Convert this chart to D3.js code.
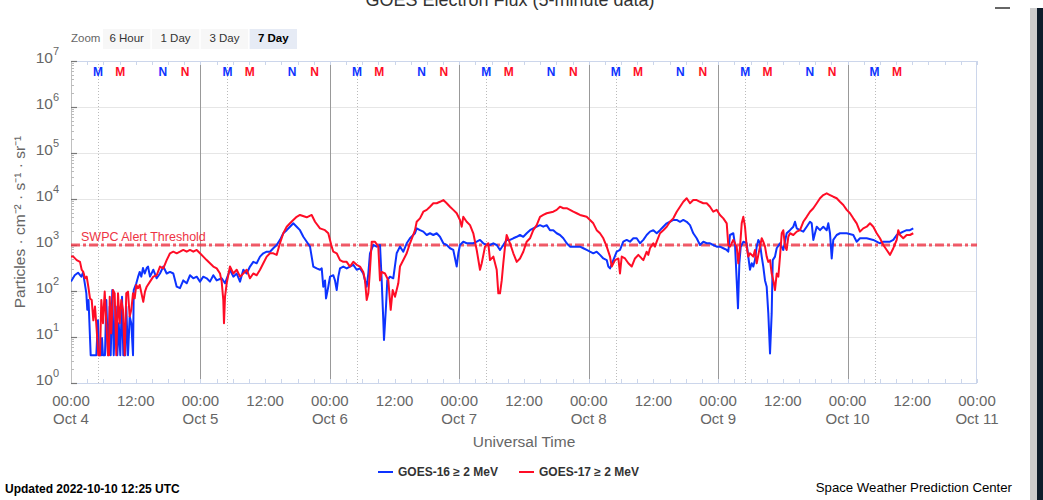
<!DOCTYPE html>
<html>
<head>
<meta charset="utf-8">
<script src="https://cdn.jsdelivr.net/npm/d3@7/dist/d3.min.js"></script>
<style>
  html, body { margin: 0; padding: 0; background: #fff; }
  svg { display: block; font-family: "Liberation Sans", Arial, Helvetica, sans-serif; }
</style>
</head>
<body>
<svg id="chart" width="1043" height="500"></svg>
<script>
// ---- data: hours after 2022-10-04 00:00 UTC, electron flux (particles / cm2 s sr)
const goes16Hours = [0,0.69,1.30,1.91,2.23,2.54,2.84,3.02,3.25,3.65,4.69,5.0,5.19,5.62,5.75,5.93,6.30,6.55,6.86,7.18,7.36,7.66,7.92,8.29,8.59,8.85,9.14,9.46,9.70,10.07,10.25,10.57,10.88,11.18,11.5,11.63,12.11,12.42,12.74,13.04,13.35,13.67,14.04,14.28,14.65,15.26,15.89,16.5,17.12,17.74,18.36,18.97,19.6,20.21,20.82,21.45,22.07,22.68,23.31,23.92,24.53,25.16,25.77,26.39,27.02,27.94,28.56,29.48,30.1,30.73,31.34,31.95,32.58,33.19,33.8,34.43,35.05,35.66,36.29,36.9,37.51,38.14,38.75,39.37,40.0,40.61,41.22,41.85,42.46,43.08,43.71,44.32,44.93,45.56,46.17,46.49,46.78,47.1,47.29,47.71,48.03,48.64,48.95,49.27,49.57,49.88,50.49,51.12,51.73,52.35,52.98,53.59,54.2,54.52,54.83,55.13,55.44,56.06,56.69,57.3,57.61,57.91,58.04,58.41,58.65,59.15,59.76,60.39,61.0,61.62,62.25,62.86,63.79,64.1,64.71,65.33,65.96,66.57,67.18,67.81,68.42,69.04,69.67,70.28,70.89,71.52,71.82,72.13,72.74,73.37,73.99,74.6,75.23,75.84,76.45,77.08,77.7,78.31,78.94,79.55,80.16,80.79,81.4,82.02,82.65,83.26,83.87,84.5,85.11,85.72,86.35,86.97,87.58,88.21,88.82,89.43,90.06,90.67,91.29,91.92,92.53,93.14,94.38,95.0,95.62,96.24,96.85,97.48,98.09,98.71,99.34,99.64,99.95,100.56,101.19,101.8,102.41,103.04,103.65,104.27,104.9,105.51,106.13,106.75,107.36,107.98,108.61,109.22,109.83,110.46,111.07,111.69,112.32,112.93,113.54,114.17,114.78,115.39,116.02,116.64,117.25,117.88,118.49,119.1,119.73,120.34,120.96,121.59,121.88,122.2,122.81,123.13,123.44,123.68,123.93,124.19,124.67,125.29,125.59,125.9,126.22,126.52,126.83,127.15,127.45,127.76,128.08,128.37,128.69,129.0,129.3,129.62,129.93,130.12,130.54,130.86,131.47,132.08,132.71,133.32,133.94,134.25,134.57,135.18,135.79,136.42,137.03,137.35,137.65,137.96,138.28,138.89,139.5,140.13,140.43,140.74,141.06,141.35,141.98,142.59,143.84,145.06,145.69,146.3,147.55,148.77,150.01,150.63,151.87,152.48,153.11,153.72,154.33,154.96,155.57,156.18];
const goes16Flux = [160,220,250,205,250,150,90,39,64,4,4,23,4,4,9.5,4,4,64,4,46,4,105,4,46,4,20,4,75,4,4,46,4,28,20,4,105,147,200,260,205,316,240,316,340,205,290,189,240,340,240,260,240,124,115,170,147,220,189,205,160,205,189,160,220,170,189,147,290,205,240,160,290,240,340,430,400,560,660,715,715,850,1000,1290,1800,2100,2500,2960,2500,2100,1510,1180,920,340,310,290,310,124,170,69,124,205,220,170,105,205,310,340,310,340,370,290,310,240,170,124,240,660,1000,920,1000,170,23,8.6,46,170,205,189,660,920,715,1090,1400,1800,2300,2100,1950,1650,1800,1650,1800,1510,1090,1000,850,780,340,660,1000,1180,1090,1090,1090,1180,1290,1090,1000,1000,1090,1000,780,1000,1290,1290,1400,1510,1650,1510,1800,2100,2300,2500,2700,2500,2700,2100,2100,1800,1650,1400,1090,920,920,920,850,780,715,660,715,610,510,470,340,310,470,715,780,1180,1290,1180,1400,1400,1090,1290,1650,1950,2100,1800,2100,2500,2960,3200,3500,3500,3200,3500,3200,2700,1800,1400,1000,1180,1090,1090,1000,920,920,850,780,715,1650,1800,1000,170,42,400,920,1180,1090,560,290,400,340,470,920,1290,1090,560,340,170,124,33,4.4,33,470,560,850,1090,780,1800,2100,2500,3200,2300,2100,1950,2500,3200,2960,1290,1800,2500,2100,2500,2100,2960,1800,510,1290,1650,1800,1800,1650,1180,1400,1400,1290,1090,1180,1180,1290,1650,1800,1950,2100,2100,2300];

const goes17Hours = [0,0.43,1.06,1.67,1.98,2.28,2.6,2.91,3.21,3.52,3.84,4.14,4.45,4.77,5.06,5.38,5.62,5.93,6.25,6.55,6.86,7.05,7.18,7.47,7.79,8.1,8.4,8.72,9.03,9.33,9.64,9.96,10.25,10.57,10.88,11.18,11.5,11.81,12.11,12.42,12.74,13.4,13.72,14.04,14.65,15.26,15.89,16.5,17.12,17.74,18.36,18.97,19.6,20.21,20.82,21.45,22.07,22.68,23.31,23.92,24.53,25.16,25.77,26.39,27.02,27.63,27.94,28.24,28.37,28.56,28.87,29.48,30.1,30.73,31.34,31.95,32.58,33.19,33.8,34.43,35.05,35.66,36.29,36.9,37.51,38.14,38.75,39.37,40.0,40.61,41.22,41.85,42.46,43.71,44.63,45.25,46.17,47.1,47.71,48.34,48.64,49.27,49.88,50.49,51.12,51.73,52.35,52.98,53.59,54.2,54.52,54.83,55.13,55.44,55.76,56.37,56.98,57.3,57.61,58.22,58.84,59.28,59.65,60.08,60.69,61.0,61.62,62.25,62.86,63.79,64.1,64.71,65.33,65.96,66.57,67.18,67.81,68.42,69.04,69.67,70.28,70.89,71.52,72.13,72.45,72.74,73.37,73.99,74.6,75.23,75.84,76.16,76.77,77.38,77.7,78.31,78.94,79.24,79.55,79.87,80.16,80.48,80.79,81.4,82.02,82.65,83.26,83.87,84.5,85.11,85.72,86.35,86.97,87.58,88.21,89.43,90.06,90.67,91.29,91.92,92.53,93.14,93.77,94.38,95.62,96.24,96.85,97.48,98.09,98.71,99.34,99.95,100.27,100.88,101.5,101.8,102.12,102.73,103.35,103.97,104.58,105.2,105.51,105.82,106.13,106.75,107.05,107.36,107.98,108.29,108.61,109.22,109.83,110.46,111.07,111.69,112.32,112.93,113.54,114.17,114.78,115.39,116.02,116.64,117.25,117.88,118.49,119.1,119.73,120.34,120.96,121.59,121.88,122.2,122.81,123.44,123.74,124.06,124.37,124.67,124.98,125.29,125.59,125.9,126.52,126.83,127.15,127.45,128.08,128.37,128.69,129.0,129.3,129.62,129.93,130.23,130.54,130.86,131.16,131.47,131.79,132.08,132.4,132.71,133.01,133.32,133.94,134.57,135.18,135.79,136.42,137.03,137.65,138.28,138.89,139.5,140.13,140.74,141.35,141.98,142.59,143.21,143.84,144.45,145.06,145.69,146.3,146.91,147.55,148.16,148.77,149.4,150.01,150.63,151.26,151.87,152.48,153.11,153.4,153.72,154.33,154.96,155.57,156.18];
const goes17Flux = [560,560,470,430,290,260,189,205,124,69,64,23,46,14,4,4,64,20,97,20,4,4,75,12,105,89,4,89,20,64,39,4,89,97,28,39,89,69,135,115,135,58,97,124,160,205,220,340,310,470,660,715,660,715,780,715,780,715,780,660,560,470,400,340,310,240,160,64,20,75,147,340,240,290,205,240,290,189,240,220,290,400,560,660,660,610,1090,1800,2500,2960,3500,4100,4500,4000,4500,3200,2300,2100,1800,920,715,660,470,430,430,340,430,370,340,260,170,64,89,290,1180,1180,920,170,260,240,170,39,105,75,147,340,470,660,1090,2100,3200,3800,5300,5800,6800,8100,8100,8700,9500,8100,6800,5800,4900,3500,2500,4100,3200,2700,1800,780,290,400,920,1090,470,560,290,89,89,170,400,920,1650,1090,660,430,510,715,1180,1400,2100,2700,4100,4500,4900,5300,5800,6800,6300,6300,5800,5300,4900,4500,4100,3500,2960,2100,1800,1400,920,560,340,470,510,240,560,510,400,340,510,610,560,510,470,715,610,850,1090,920,1180,1800,2100,2500,3200,3800,5300,6800,8700,10400,8100,9500,9500,8700,8100,8100,6800,5300,5800,4500,3800,2960,1000,920,1290,920,400,920,2960,4100,2500,920,560,660,560,780,400,610,1400,1180,920,560,430,470,240,170,105,240,205,560,1800,2100,920,780,1510,1800,1650,1950,2100,3200,4100,5300,6300,8100,10400,12200,13300,12200,11200,10400,8700,7400,5800,4900,3800,2960,1950,2300,2500,2960,2500,1800,1400,1000,780,610,850,1290,2100,1650,1400,1650,1650,1800];

const zoomButtons = ["6 Hour", "1 Day", "3 Day", "7 Day"];
const selectedZoom = "7 Day";
const alertThreshold = 1000;
const decades = [0, 1, 2, 3, 4, 5, 6, 7];
// local midnight / noon (UTC hours) for each satellite
const localTimeMarks = [
  { label: "M", hour: 5.01, sat: 16 },
  { label: "M", hour: 9.15, sat: 17 },
  { label: "N", hour: 17.01, sat: 16 },
  { label: "N", hour: 21.15, sat: 17 }
];
const legendItems = [
  { name: "GOES-16 \u2265 2 MeV", sat: 16 },
  { name: "GOES-17 \u2265 2 MeV", sat: 17 }
];

const colors = { 16: "#0d33ff", 17: "#ff0d26" };
const start = Date.UTC(2022, 9, 4);
const end = Date.UTC(2022, 9, 11);
const updated = Date.UTC(2022, 9, 10, 12, 25);
const H = 3600 * 1000;

const svg = d3.select("#chart");
const plot = { left: 71, right: 977, top: 61, bottom: 383 };

const x = d3.scaleUtc().domain([start, end]).range([plot.left, plot.right]);
const y = d3.scaleLog().domain([1, 1e7]).range([plot.bottom, plot.top]);

// title (page is scrolled so only its lower part shows)
svg.append("text").attr("x", 510).attr("y", 6).attr("text-anchor", "middle")
  .attr("font-size", 18).attr("fill", "#333").text("GOES Electron Flux (5-minute data)");

// menu icon and page edge
svg.append("rect").attr("x", 995).attr("y", 7).attr("width", 15).attr("height", 2).attr("fill", "#666");
svg.append("rect").attr("x", 1030).attr("y", 8).attr("width", 7).attr("height", 492).attr("fill", "#cdcdcd");
svg.append("rect").attr("x", 1037).attr("y", 8).attr("width", 6).attr("height", 492).attr("fill", "#0e1d2b");

// range selector buttons
svg.append("text").attr("x", 71).attr("y", 42).attr("font-size", 11.5).attr("fill", "#666").text("Zoom");
const btnX = d3.scaleBand().domain(zoomButtons).range([103, 297]).paddingInner(0.03);
const btn = svg.append("g").selectAll("g").data(zoomButtons).join("g");
btn.append("rect").attr("x", d => btnX(d)).attr("y", 29).attr("width", btnX.bandwidth()).attr("height", 20)
  .attr("fill", d => d === selectedZoom ? "#e6ebf5" : "#f7f7f7");
btn.append("text").attr("x", d => btnX(d) + btnX.bandwidth() / 2).attr("y", 42).attr("text-anchor", "middle")
  .attr("font-size", 11.5).attr("fill", d => d === selectedZoom ? "#000" : "#333")
  .attr("font-weight", d => d === selectedZoom ? "bold" : "normal").text(d => d);

// horizontal decade grid
svg.append("g").selectAll("line").data(decades.slice(1, 7)).join("line")
  .attr("x1", plot.left).attr("x2", plot.right)
  .attr("y1", d => Math.round(y(10 ** d)) + 0.5).attr("y2", d => Math.round(y(10 ** d)) + 0.5)
  .attr("stroke", "#e6e6e6").attr("stroke-width", 1);

// day separators
const days = d3.utcDay.range(start + 1, end);
svg.append("g").selectAll("line").data(days).join("line")
  .attr("x1", d => Math.round(x(d)) + 0.5).attr("x2", d => Math.round(x(d)) + 0.5)
  .attr("y1", plot.top).attr("y2", plot.bottom).attr("stroke", "#999").attr("stroke-width", 1);

// GOES-16 local midnight reference lines
const markDays = d3.utcDay.range(start, end).map(d => +d);
svg.append("g").selectAll("line").data(markDays).join("line")
  .attr("x1", d => Math.round(x(d + 5.01 * H)) + 0.5).attr("x2", d => Math.round(x(d + 5.01 * H)) + 0.5)
  .attr("y1", plot.top).attr("y2", plot.bottom)
  .attr("stroke", "#bbb").attr("stroke-width", 1).attr("stroke-dasharray", "1,2");

// plot frame
svg.append("rect").attr("x", plot.left + 0.5).attr("y", plot.top + 0.5)
  .attr("width", plot.right - plot.left - 1).attr("height", plot.bottom - plot.top)
  .attr("fill", "none").attr("stroke", "#ccd6eb");

// time ticks along top and bottom edges
const threeHours = d3.utcHour.every(3).range(start, end + 1);
svg.append("g").selectAll("line").data(threeHours).join("line")
  .attr("x1", d => Math.round(x(d)) + 0.5).attr("x2", d => Math.round(x(d)) + 0.5)
  .attr("y1", plot.top).attr("y2", plot.top + 4).attr("stroke", "#ccd6eb");
svg.append("g").selectAll("line").data(threeHours).join("line")
  .attr("x1", d => Math.round(x(d)) + 0.5).attr("x2", d => Math.round(x(d)) + 0.5)
  .attr("y1", plot.bottom - 4).attr("y2", plot.bottom).attr("stroke", "#ccd6eb");

// y axis: line, minor and major ticks
svg.append("line").attr("x1", plot.left + 0.5).attr("x2", plot.left + 0.5)
  .attr("y1", plot.top).attr("y2", plot.bottom).attr("stroke", "#c0c0c0");
const minor = [];
decades.slice(0, 7).forEach(e => { for (let m = 2; m <= 9; m++) minor.push(m * 10 ** e); });
svg.append("g").selectAll("line").data(minor).join("line")
  .attr("x1", plot.left).attr("x2", plot.left + 3)
  .attr("y1", d => Math.round(y(d)) + 0.5).attr("y2", d => Math.round(y(d)) + 0.5)
  .attr("stroke", "#bbb");
svg.append("g").selectAll("line").data(decades).join("line")
  .attr("x1", plot.left).attr("x2", plot.left + 6)
  .attr("y1", d => Math.round(y(10 ** d)) + 0.5).attr("y2", d => Math.round(y(10 ** d)) + 0.5)
  .attr("stroke", "#777").attr("stroke-width", 1.2);

const ylab = svg.append("g").selectAll("text").data(decades).join("text")
  .attr("x", 59).attr("y", d => y(10 ** d) + 2).attr("text-anchor", "end")
  .attr("fill", "#666").attr("font-size", 15.5);
ylab.append("tspan").text("10");
ylab.append("tspan").attr("dy", -8).attr("font-size", 11).text(d => d);

svg.append("text").attr("transform", "translate(25,222) rotate(-90)").attr("text-anchor", "middle")
  .attr("fill", "#666").attr("font-size", 15.5)
  .text("Particles \u00b7 cm\u207b\u00b2 \u00b7 s\u207b\u00b9 \u00b7 sr\u207b\u00b9");

// x axis labels
const halfDays = d3.utcHour.every(12).range(start, end + 1);
const xl = svg.append("g").selectAll("text").data(halfDays).join("text")
  .attr("x", d => x(d)).attr("y", 406).attr("text-anchor", "middle")
  .attr("fill", "#666").attr("font-size", 15);
xl.append("tspan").text(d => d3.utcFormat("%H:%M")(d));
xl.filter(d => d.getUTCHours() === 0).append("tspan").attr("x", d => x(d)).attr("dy", 18)
  .text(d => d3.utcFormat("%b %-d")(d));
svg.append("text").attr("x", 524).attr("y", 447).attr("text-anchor", "middle")
  .attr("fill", "#666").attr("font-size", 15.5).text("Universal Time");

// alert threshold
svg.append("line").attr("x1", plot.left).attr("x2", plot.right)
  .attr("y1", y(alertThreshold)).attr("y2", y(alertThreshold))
  .attr("stroke", "#ee3344").attr("stroke-opacity", 0.8).attr("stroke-width", 3)
  .attr("stroke-dasharray", "9,3,3,3");
svg.append("text").attr("x", 81).attr("y", y(alertThreshold) - 4)
  .attr("fill", "#ee3344").attr("font-size", 12.5).text("SWPC Alert Threshold");

// flux lines
svg.append("defs").append("clipPath").attr("id", "plotclip").append("rect")
  .attr("x", plot.left).attr("y", plot.top).attr("width", plot.right - plot.left).attr("height", plot.bottom - plot.top);
const line = d3.line().x(d => x(start + d[0] * H)).y(d => y(d[1]));
const series = [
  { sat: 16, pts: d3.zip(goes16Hours, goes16Flux) },
  { sat: 17, pts: d3.zip(goes17Hours, goes17Flux) }
];
svg.append("g").attr("clip-path", "url(#plotclip)").selectAll("path").data(series).join("path")
  .attr("d", d => line(d.pts)).attr("fill", "none")
  .attr("stroke", d => colors[d.sat]).attr("stroke-width", 2).attr("stroke-linejoin", "round");

// local midnight (M) / noon (N) markers up to the last update
const marks = [];
markDays.forEach(d => localTimeMarks.forEach(m => {
  const t = d + m.hour * H;
  if (t <= updated) marks.push({ t, label: m.label, sat: m.sat });
}));
svg.append("g").selectAll("text").data(marks).join("text")
  .attr("x", d => x(d.t)).attr("y", 76).attr("text-anchor", "middle")
  .attr("font-size", 12).attr("font-weight", "bold")
  .attr("fill", d => colors[d.sat]).text(d => d.label);

// legend
const lg = svg.append("g").selectAll("g").data(legendItems).join("g")
  .attr("transform", (d, i) => `translate(${378 + i * 141},0)`);
lg.append("line").attr("x1", 0).attr("x2", 15).attr("y1", 472).attr("y2", 472)
  .attr("stroke", d => colors[d.sat]).attr("stroke-width", 2);
lg.append("text").attr("x", 20).attr("y", 476).attr("font-size", 12).attr("font-weight", "bold")
  .attr("fill", "#333").text(d => d.name);

// footer
svg.append("text").attr("x", 5).attr("y", 493).attr("font-size", 12).attr("font-weight", "bold")
  .attr("fill", "#000").text("Updated " + d3.utcFormat("%Y-%m-%d %H:%M")(updated) + " UTC");
svg.append("text").attr("x", 1012).attr("y", 492).attr("text-anchor", "end").attr("font-size", 13.2)
  .attr("fill", "#000").text("Space Weather Prediction Center");
</script>
</body>
</html>
